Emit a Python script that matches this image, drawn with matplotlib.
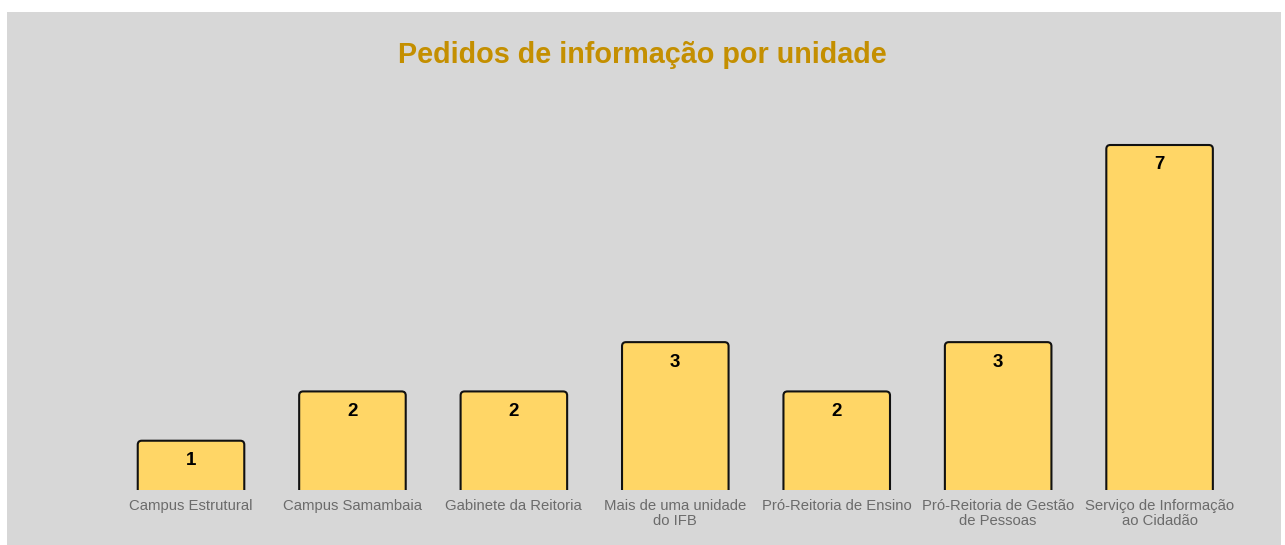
import matplotlib
matplotlib.use("Agg")
import matplotlib.pyplot as plt
from matplotlib.patches import FancyBboxPatch, Rectangle

categories = ["Campus Estrutural", "Campus Samambaia", "Gabinete da Reitoria",
              "Mais de uma unidade\ndo IFB", "Pró-Reitoria de Ensino",
              "Pró-Reitoria de Gestão\nde Pessoas", "Serviço de Informação\nao Cidadão"]
values = [1, 2, 2, 3, 2, 3, 7]

W, H = 1285, 545
fig = plt.figure(figsize=(W / 100, H / 100), dpi=100)
fig.patch.set_facecolor("white")
bg = Rectangle((7 / W, 0), (1281 - 7) / W, (H - 12) / H, transform=fig.transFigure,
               facecolor="#d7d7d7", edgecolor="none", zorder=-10)
fig.patches.append(bg)

# axes: x -0.5..6.5 spans 110..1240 px; y=0 at 490 px, y=7 at 145 px
left, right = 110.3, 1240.3
y0_px, y7_px = 490, 145
unit = (y0_px - y7_px) / 7
top_px = 90
ymax = (y0_px - top_px) / unit
ax = fig.add_axes([left / W, (H - y0_px) / H, (right - left) / W, (y0_px - top_px) / H])
ax.set_zorder(5)
ax.set_facecolor("none")
ax.set_xlim(-0.5, len(values) - 0.5)
ax.set_ylim(0, ymax)
for s in ax.spines.values():
    s.set_visible(False)
ax.set_xticks([])
ax.set_yticks([])

bw = 0.66
xpx = (right - left) / len(values)
r_px = 4
rx = r_px / xpx
ry = r_px / unit
for i, v in enumerate(values):
    p = FancyBboxPatch((i - bw / 2 + rx, -1 + ry), bw - 2 * rx, v + 1 - 2 * ry,
                       boxstyle=f"round,pad={rx}", mutation_aspect=ry / rx,
                       facecolor="#ffd666", edgecolor="#111111", linewidth=1.5,
                       zorder=2)
    ax.add_patch(p)
    ax.annotate(str(v), (i, v), xytext=(0, -20), textcoords="offset pixels",
                ha="center", va="center", fontsize=13.5, fontweight="bold",
                family="Liberation Sans", color="black", zorder=3)
    ax.annotate(categories[i], (i, 0), xytext=(0, -9), textcoords="offset pixels",
                ha="center", va="top", fontsize=10.7, family="Liberation Sans",
                color="#6b6b6b", linespacing=1.05, annotation_clip=False)

fig.text(642.5 / W, 1 - 55 / H, "Pedidos de informação por unidade", ha="center",
         va="center", fontsize=20.7, fontweight="bold", family="Liberation Sans",
         color="#c48f00")

fig.savefig("out.png", dpi=100, facecolor=fig.get_facecolor())
